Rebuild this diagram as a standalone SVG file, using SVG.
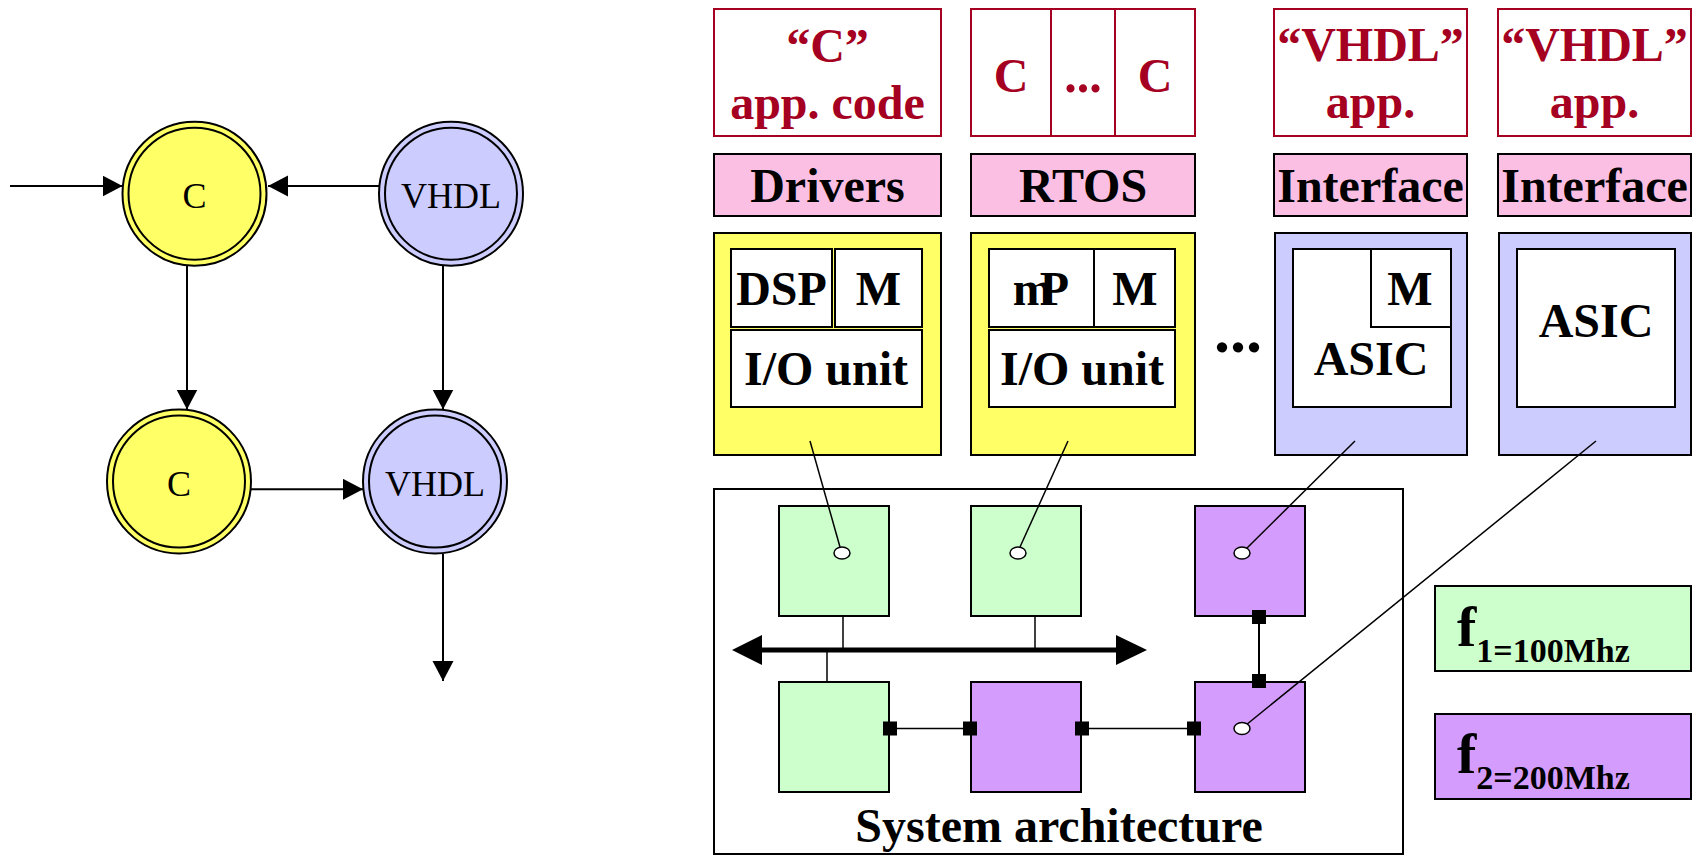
<svg xmlns="http://www.w3.org/2000/svg" width="1694" height="856" viewBox="0 0 1694 856">
  <style>
    .serif { font-family: "Liberation Serif", "Times New Roman", serif; }
    .lbl { font-family: "Liberation Serif", "Times New Roman", serif; font-size: 36px; text-anchor: middle; fill: #000; }
    .bold { font-family: "Liberation Serif", "Times New Roman", serif; font-weight: bold; font-size: 48px; text-anchor: middle; fill: #000; }
    .red { fill: #a50021; }
    .edge { stroke: #000; stroke-width: 2; fill: none; }
    .thin { stroke: #000; stroke-width: 1.5; fill: none; }
    .app { fill: #fff; stroke: #a50021; stroke-width: 2; }
    .sw { fill: #fbbfe4; stroke: #000; stroke-width: 2; }
    .cpu { fill: #ffff66; stroke: #000; stroke-width: 2; }
    .hw { fill: #ccccff; stroke: #000; stroke-width: 2; }
    .unit { fill: #fff; stroke: #000; stroke-width: 2; }
    .pe1 { fill: #ccffcc; stroke: #000; stroke-width: 2; }
    .pe2 { fill: #d49cfc; stroke: #000; stroke-width: 2; }
    .port { fill: #000; }
    .dot { fill: #fff; stroke: #000; stroke-width: 1.5; }
    .yC { fill: #ffff66; stroke: #000; stroke-width: 2; }
    .bV { fill: #ccccff; stroke: #000; stroke-width: 2; }
  </style>
  <defs>
    <marker id="ah" markerUnits="userSpaceOnUse" markerWidth="21" markerHeight="22" refX="20" refY="10.5" orient="auto">
      <path d="M0,0 L20,10.5 L0,21 Z" fill="#000"/>
    </marker>
  </defs>

  <!-- Task graph: double-circled processes -->
  <g id="node-c1">
    <circle class="yC" cx="194.5" cy="193.7" r="72"/>
    <circle class="yC" cx="194.5" cy="193.7" r="66"/>
    <text class="lbl" x="194.5" y="208">C</text>
  </g>
  <g id="node-vhdl1">
    <circle class="bV" cx="451" cy="193.7" r="72"/>
    <circle class="bV" cx="451" cy="193.7" r="66"/>
    <text class="lbl" x="451" y="208">VHDL</text>
  </g>
  <g id="node-c2">
    <circle class="yC" cx="179" cy="481.5" r="72"/>
    <circle class="yC" cx="179" cy="481.5" r="66"/>
    <text class="lbl" x="179" y="496">C</text>
  </g>
  <g id="node-vhdl2">
    <circle class="bV" cx="435" cy="481.5" r="72"/>
    <circle class="bV" cx="435" cy="481.5" r="66"/>
    <text class="lbl" x="435" y="496">VHDL</text>
  </g>

  <g id="task-edges">
    <line class="edge" x1="10" y1="186" x2="122.5" y2="186" marker-end="url(#ah)"/>
    <line class="edge" x1="379" y1="186" x2="268" y2="186" marker-end="url(#ah)"/>
    <line class="edge" x1="187" y1="266" x2="187" y2="409.5" marker-end="url(#ah)"/>
    <line class="edge" x1="443" y1="266" x2="443" y2="409.5" marker-end="url(#ah)"/>
    <line class="edge" x1="251" y1="489.3" x2="363" y2="489.3" marker-end="url(#ah)"/>
    <line class="edge" x1="443" y1="554" x2="443" y2="681" marker-end="url(#ah)"/>
  </g>

  <!-- Application layer -->
  <g id="app-c">
    <rect class="app" x="714" y="9" width="227" height="127"/>
    <text class="bold red" x="827.5" y="62">“C”</text>
    <text class="bold red" x="827.5" y="119">app. code</text>
  </g>
  <g id="app-cc">
    <rect class="app" x="971" y="9" width="224" height="127"/>
    <line x1="1051" y1="9" x2="1051" y2="136" stroke="#a50021" stroke-width="2"/>
    <line x1="1115" y1="9" x2="1115" y2="136" stroke="#a50021" stroke-width="2"/>
    <text class="bold red" x="1011" y="92">C</text>
    <text class="bold red" x="1083" y="92" style="font-size:50px">...</text>
    <text class="bold red" x="1155" y="92">C</text>
  </g>
  <g id="app-vhdl1">
    <rect class="app" x="1274" y="9" width="193" height="127"/>
    <text class="bold red" x="1370.5" y="61">“VHDL”</text>
    <text class="bold red" x="1370.5" y="118">app.</text>
  </g>
  <g id="app-vhdl2">
    <rect class="app" x="1498" y="9" width="193" height="127"/>
    <text class="bold red" x="1594.5" y="61">“VHDL”</text>
    <text class="bold red" x="1594.5" y="118">app.</text>
  </g>

  <!-- Software / interface layer -->
  <g id="sw-drivers">
    <rect class="sw" x="714" y="154" width="227" height="62"/>
    <text class="bold" x="827.5" y="202">Drivers</text>
  </g>
  <g id="sw-rtos">
    <rect class="sw" x="971" y="154" width="224" height="62"/>
    <text class="bold" x="1083" y="202">RTOS</text>
  </g>
  <g id="if-1">
    <rect class="sw" x="1274" y="154" width="193" height="62"/>
    <text class="bold" x="1370.5" y="202">Interface</text>
  </g>
  <g id="if-2">
    <rect class="sw" x="1498" y="154" width="193" height="62"/>
    <text class="bold" x="1594.5" y="202">Interface</text>
  </g>

  <!-- Hardware components -->
  <g id="hw-dsp">
    <rect class="cpu" x="714" y="233" width="227" height="222"/>
    <rect class="unit" x="731" y="249" width="101" height="78"/>
    <rect class="unit" x="835" y="249" width="87" height="78"/>
    <rect class="unit" x="731" y="330" width="191" height="77"/>
    <text class="bold" x="781.5" y="305">DSP</text>
    <text class="bold" x="878.5" y="305">M</text>
    <text class="bold" x="826" y="385">I/O unit</text>
  </g>
  <g id="hw-up">
    <rect class="cpu" x="971" y="233" width="224" height="222"/>
    <rect class="unit" x="989" y="249" width="105" height="78"/>
    <rect class="unit" x="1094" y="249" width="81" height="78"/>
    <rect class="unit" x="989" y="330" width="186" height="77"/>
    <text class="bold" x="1041" y="305">m<tspan dx="-13">P</tspan></text>
    <text class="bold" x="1135" y="305">M</text>
    <text class="bold" x="1082" y="385">I/O unit</text>
  </g>
  <g id="hw-more">
    <text class="bold" x="1238" y="352" style="font-size:64px">...</text>
  </g>
  <g id="hw-asic1">
    <rect class="hw" x="1275" y="233" width="192" height="222"/>
    <rect class="unit" x="1293" y="249" width="158" height="158"/>
    <rect class="unit" x="1371" y="249" width="80" height="78"/>
    <text class="bold" x="1410" y="305">M</text>
    <text class="bold" x="1371" y="375">ASIC</text>
  </g>
  <g id="hw-asic2">
    <rect class="hw" x="1499" y="233" width="192" height="222"/>
    <rect class="unit" x="1517" y="249" width="158" height="158"/>
    <text class="bold" x="1596" y="337">ASIC</text>
  </g>

  <!-- System architecture -->
  <g id="sysarch">
    <rect x="714" y="489" width="689" height="365" fill="none" stroke="#000" stroke-width="2"/>
    <text class="bold" x="1059" y="842">System architecture</text>
  </g>
  <g id="pe-1"><rect class="pe1" x="779" y="506" width="110" height="110"/></g>
  <g id="pe-2"><rect class="pe1" x="971" y="506" width="110" height="110"/></g>
  <g id="pe-3"><rect class="pe2" x="1195" y="506" width="110" height="110"/></g>
  <g id="pe-4"><rect class="pe1" x="779" y="682" width="110" height="110"/></g>
  <g id="pe-5"><rect class="pe2" x="971" y="682" width="110" height="110"/></g>
  <g id="pe-6"><rect class="pe2" x="1195" y="682" width="110" height="110"/></g>

  <g id="legend-f1">
    <rect class="pe1" x="1435" y="586" width="256" height="85"/>
    <text class="serif" x="1457" y="646" font-weight="bold" font-size="58">f<tspan font-size="34" dy="16">1=100Mhz</tspan></text>
  </g>
  <g id="legend-f2">
    <rect class="pe2" x="1435" y="714" width="256" height="85"/>
    <text class="serif" x="1457" y="773" font-weight="bold" font-size="58">f<tspan font-size="34" dy="16">2=200Mhz</tspan></text>
  </g>

  <g id="connectors">
    <!-- bus -->
    <line x1="758" y1="650" x2="1120" y2="650" stroke="#000" stroke-width="5"/>
    <polygon points="732,650 762,635 762,665" fill="#000"/>
    <polygon points="1147,650 1116,635 1116,665" fill="#000"/>
    <line class="thin" x1="843" y1="616" x2="843" y2="650"/>
    <line class="thin" x1="1035" y1="616" x2="1035" y2="650"/>
    <line class="thin" x1="827" y1="650" x2="827" y2="682"/>
    <!-- point-to-point links -->
    <line class="thin" x1="889" y1="728.5" x2="971" y2="728.5"/>
    <line class="thin" x1="1081" y1="728.5" x2="1195" y2="728.5"/>
    <line class="edge" x1="1259" y1="616" x2="1259" y2="682"/>
    <rect class="port" x="883" y="721.5" width="14" height="14"/>
    <rect class="port" x="963" y="721.5" width="14" height="14"/>
    <rect class="port" x="1075" y="721.5" width="14" height="14"/>
    <rect class="port" x="1187" y="721.5" width="14" height="14"/>
    <rect class="port" x="1252" y="610" width="14" height="14"/>
    <rect class="port" x="1252" y="674" width="14" height="14"/>
    <!-- mapping lines -->
    <line class="thin" x1="810" y1="441" x2="840" y2="547"/>
    <line class="thin" x1="1068" y1="441" x2="1020" y2="547"/>
    <line class="thin" x1="1355" y1="441" x2="1246" y2="549"/>
    <line class="thin" x1="1596" y1="441" x2="1246" y2="725"/>
    <ellipse class="dot" cx="842" cy="553" rx="8" ry="6"/>
    <ellipse class="dot" cx="1018" cy="553" rx="8" ry="6"/>
    <ellipse class="dot" cx="1242" cy="553" rx="8" ry="6"/>
    <ellipse class="dot" cx="1242" cy="728.5" rx="8" ry="6"/>
  </g>
</svg>
